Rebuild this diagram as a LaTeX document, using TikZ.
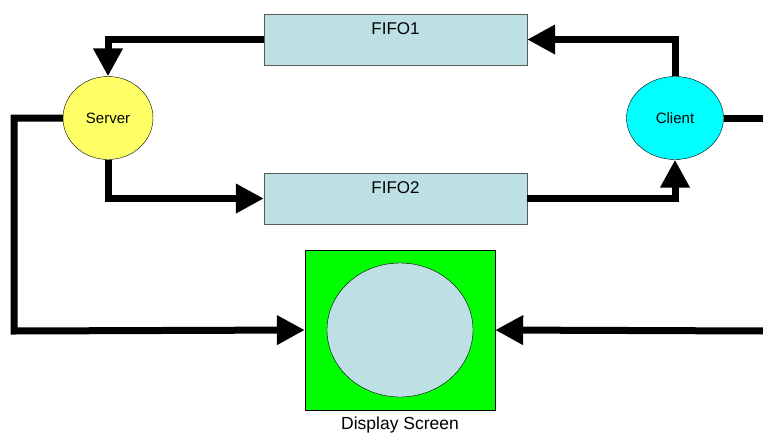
\documentclass[tikz,border=0pt]{standalone}
\usepackage{fontspec}
\setmainfont{Liberation Sans}
\usetikzlibrary{arrows.meta, positioning}
\usepgflibrary{shapes.geometric}
\definecolor{fifoblue}{RGB}{188,224,228}
\definecolor{servyellow}{RGB}{255,255,102}
\definecolor{clicyan}{RGB}{0,255,255}
\definecolor{scrgreen}{RGB}{0,255,0}

\begin{document}
\begin{tikzpicture}[x=1pt, y=-1pt,
                fifobox/.style={draw=black!65, fill=fifoblue, minimum width=263pt, minimum height=51pt},
                proc/.style={ellipse, draw, thin, inner sep=0pt, font=\fontsize{15}{17}\selectfont},
                flow/.style={line width=7pt, -{Triangle[length=28pt, width=28pt]}},
                wire/.style={line width=7pt}]
                \useasboundingbox (0,0) rectangle (763,432);
                \node [fifobox, label={[anchor=center, yshift=-15pt, font=\fontsize{17}{19}\selectfont]north:FIFO1}] (fifo1) at (395.5,39.5) {};
                \node [fifobox, label={[anchor=center, yshift=-15pt, font=\fontsize{17}{19}\selectfont]north:FIFO2}] (fifo2) at (395.5,198.5) {};
                \node [proc, fill=servyellow, minimum width=90pt, minimum height=83pt] (server) at (108,118) {Server};
                \node [proc, fill=clicyan, minimum width=97pt, minimum height=83pt] (client) at (675,118) {Client};
                \node [draw, thin, fill=scrgreen, minimum width=190pt, minimum height=160pt] (screen) at (400,330) {};
                \node [ellipse, draw, thin, fill=fifoblue, minimum width=146pt, minimum height=134pt] (tube) at (screen.center) {};
                \node [below=3pt of screen, font=\fontsize{17.5}{19}\selectfont] (caption) {Display Screen};
                \coordinate (edgeL) at (14,331);
                \coordinate (edgeR) at (765,331);
                \draw [flow] (fifo1.west) -| (server.north);
                \draw [flow] (client.north) |- (fifo1.east);
                \draw [flow] (server.south) |- (fifo2.west);
                \draw [flow] (fifo2.east) -| (client.south);
                \draw [flow] (server.west) -| (edgeL) -- (screen.west);
                \draw [wire] (client.east) -- (client.east -| edgeR);
                \draw [flow] (edgeR) -- (screen.east);
            \end{tikzpicture}
\end{document}
